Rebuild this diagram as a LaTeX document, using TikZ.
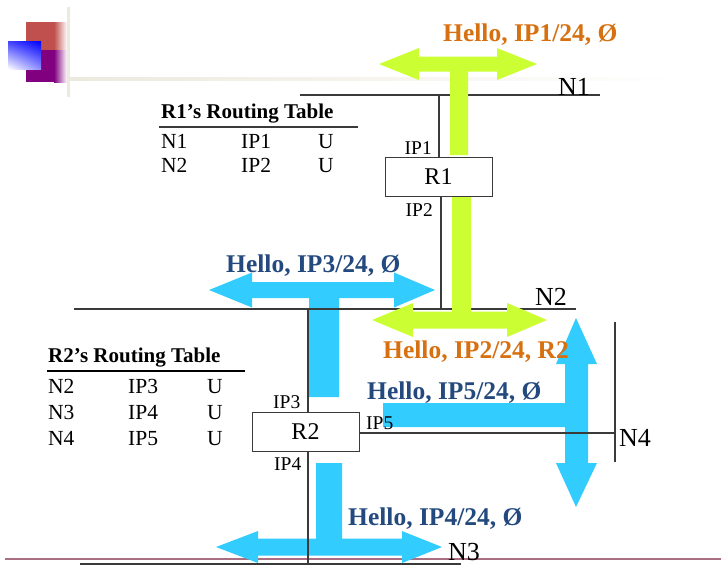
\documentclass[tikz,border=0pt]{standalone}
\usepackage{fontspec}
\setmainfont{Liberation Serif}
\usetikzlibrary{positioning,shadings}
\definecolor{arrgreen}{HTML}{CCFF33}
\definecolor{arrblue}{HTML}{33CCFF}
\definecolor{txtorange}{RGB}{214,112,16}
\definecolor{txtblue}{HTML}{23497E}
\definecolor{linegray}{HTML}{3A3A3A}
\definecolor{pinkline}{RGB}{170,110,130}
\definecolor{logored}{HTML}{C0504D}
\definecolor{logopurple}{HTML}{800080}
\definecolor{beige}{HTML}{ECE9DD}
\tikzset{
  net/.style={draw=linegray, line width=1.3pt},
  router/.style={draw=linegray, line width=1pt, fill=white, minimum width=107pt, minimum height=39pt, inner sep=0pt, font=\fontsize{24}{24}\selectfont},
  hello/.style={anchor=base west, inner sep=0pt, font=\fontsize{25.5}{26}\selectfont\bfseries},
  iplbl/.style={inner sep=0pt, font=\fontsize{19.5}{20}\selectfont},
  netlbl/.style={anchor=base west, inner sep=0pt, font=\fontsize{26}{26}\selectfont},
  ttitle/.style={anchor=base west, inner sep=0pt, font=\fontsize{21}{21}\selectfont\bfseries},
  tcell/.style={anchor=base west, inner sep=0pt, font=\fontsize{21.5}{22}\selectfont},
}
\begin{document}
\begin{tikzpicture}[x=1pt,y=-1pt]
\useasboundingbox (0,0) rectangle (721,574);
% logo
\fill[logored] (26,22) rectangle (54,50);
\shade[left color=logored, right color=white] (54,22) rectangle (67,50);
\fill[logopurple] (26,50) rectangle (54,82);
\shade[left color=logopurple, right color=white] (54,50) rectangle (67,82);
\shade[upper right=blue, upper left=blue!75!white, lower right=blue!45!white, lower left=white] (8,41) rectangle (41,69);
\fill[beige] (66.5,7) rectangle (69.5,97);
\shade[left color=beige, right color=white] (69.5,77.5) rectangle (680,80.5);
% bottom rule
\draw[pinkline, line width=1.5pt] (5,559) -- (721,559);

% routers
\node[router] (R1) at (438.5,176.5) {R1};
\node[router] (R2) at (305.5,431.5) {R2};

% networks
\coordinate (n1a) at (300,95);  \coordinate (n1b) at (600,95);
\coordinate (n2a) at (74,309);  \coordinate (n2b) at (576,309);
\coordinate (n3a) at (80,564);  \coordinate (n3b) at (461,564);
\coordinate (n4a) at (615,322); \coordinate (n4b) at (615,462);
\draw[net] (n1a) -- (n1b);
\draw[net] (n3a) -- (n3b);
\draw[net] (n4a) -- (n4b);
\coordinate (r1up) at (439,95);
\coordinate (r1dn) at (441,309);
\coordinate (r2up) at (308,309);
\coordinate (r2dn) at (308,564);
\coordinate (r2rt) at (615,433);
\draw[net] (r1up) -- (r1up |- R1.north);
\draw[net] (r1dn |- R1.south) -- (r1dn);
\draw[net] (r2up) -- (r2up |- R2.north);

% blue arrows
\fill[arrblue] (209,290) -- (252,272.5) -- (252,282) -- (394,282) -- (394,272.5) -- (435,290) -- (394,307.5) -- (394,298) -- (339,298) -- (339,397) -- (309,397) -- (309,298) -- (252,298) -- (252,307.5) -- cycle;
\fill[arrblue] (576,318) -- (597,364) -- (588,364) -- (588,463) -- (597,463) -- (576,507) -- (556,463) -- (565,463) -- (565,427) -- (383,427) -- (383,403) -- (565,403) -- (565,364) -- (556,364) -- cycle;
\fill[arrblue] (216,547) -- (258,531) -- (258,538.5) -- (316,538.5) -- (316,463) -- (342,463) -- (342,538.5) -- (402,538.5) -- (402,531) -- (442,547) -- (402,563) -- (402,555.5) -- (258,555.5) -- (258,563) -- cycle;

% lines over blue arrows
\draw[net] (n2a) -- (n2b);
\draw[net] (R2.south -| r2dn) -- (r2dn);
\draw[net] (R2.east |- r2rt) -- (r2rt);

% green arrows
\fill[arrgreen] (379,64) -- (419,48) -- (419,56.5) -- (497,56.5) -- (497,48) -- (537,64) -- (497,80) -- (497,71.5) -- (468,71.5) -- (468,155) -- (450,155) -- (450,71.5) -- (419,71.5) -- (419,80) -- cycle;
\fill[arrgreen] (372,320) -- (413,303) -- (413,311.5) -- (452,311.5) -- (452,197) -- (471,197) -- (471,311.5) -- (507,311.5) -- (507,303) -- (547,320) -- (507,337) -- (507,328.5) -- (413,328.5) -- (413,337) -- cycle;

% network labels
\node[netlbl] (lN1) at (558,95) {N1};
\node[netlbl] (lN2) at (535,305) {N2};
\node[netlbl] (lN3) at (448,560) {N3};
\node[netlbl] (lN4) at (619,446) {N4};

% interface labels
\node[iplbl, anchor=base east] (ip1) at (432,154) {IP1};
\node[iplbl, anchor=base east] (ip2) at (433,216) {IP2};
\node[iplbl, anchor=base west] (ip3) at (273,408) {IP3};
\node[iplbl, anchor=base west] (ip4) at (274,470) {IP4};
\node[iplbl, anchor=base west] (ip5) at (366,429) {IP5};

% hello labels
\node[hello, text=txtorange] (h1) at (443,41) {Hello, IP1/24, Ø};
\node[hello, text=txtblue] (h3) at (226,272) {Hello, IP3/24, Ø};
\node[hello, text=txtorange] (h2) at (383,358) {Hello, IP2/24, R2};
\node[hello, text=txtblue] (h5) at (367,399) {Hello, IP5/24, Ø};
\node[hello, text=txtblue] (h4) at (348,525) {Hello, IP4/24, Ø};

% R1 table
\node[ttitle] (t1) at (161,118) {R1’s Routing Table};
\draw[linegray, line width=1.3pt] (159,127) -- (358,127);
\node[tcell] (t1a) at (161,148) {N1};
\node[tcell] (t1b) at (241,148) {IP1};
\node[tcell] (t1c) at (318,148) {U};
\node[tcell] (t1d) at (161,172) {N2};
\node[tcell] (t1e) at (241,172) {IP2};
\node[tcell] (t1f) at (318,172) {U};

% R2 table
\node[ttitle] (t2) at (48,362) {R2’s Routing Table};
\draw[black, line width=1.3pt] (47,371) -- (245,371);
\node[tcell] (t2a) at (48,393) {N2};
\node[tcell] (t2b) at (128,393) {IP3};
\node[tcell] (t2c) at (207,393) {U};
\node[tcell] (t2d) at (48,419) {N3};
\node[tcell] (t2e) at (128,419) {IP4};
\node[tcell] (t2f) at (207,419) {U};
\node[tcell] (t2g) at (48,445) {N4};
\node[tcell] (t2h) at (128,445) {IP5};
\node[tcell] (t2i) at (207,445) {U};
\end{tikzpicture}
\end{document}
